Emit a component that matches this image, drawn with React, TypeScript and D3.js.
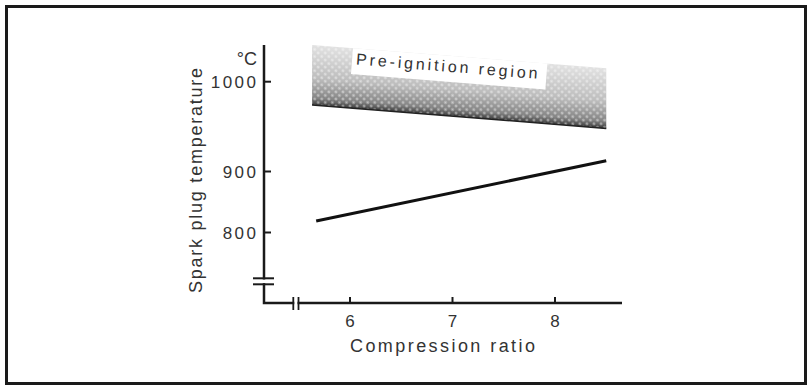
import React, { useEffect, useRef } from 'react';
import * as d3 from 'd3';

// compression ratio ticks and spark plug temperature ticks (°C)
const xTicks = [6, 7, 8];
const yTicks = [800, 900, 1000];

// spark plug temperature vs compression ratio
const lineRatio = [5.67, 8.5];
const lineTemp = [819, 912];

// pre-ignition region (upper and lower bounds)
const regionRatio = [5.63, 8.5];
const regionTop = [1041, 1015];
const regionBottom = [974, 948];

const regionLabel = 'Pre-ignition region';
const xTitle = 'Compression ratio';
const yTitle = 'Spark plug temperature';
const yUnit = '°C';

const W = 812;
const H = 389;

const App: React.FC = () => {
  const svgRef = useRef<SVGSVGElement>(null);

  useEffect(() => {
    const svg = d3.select(svgRef.current);
    svg.selectAll('*').remove();

    const ink = '#1a1a1a';
    const textCol = '#333';
    const font = '"Liberation Sans", Arial, sans-serif';

    // the original drawing has an uneven temperature axis, so piecewise
    const x = d3.scaleLinear().domain([6, 8]).range([350, 555]);
    const y = d3.scaleLinear().domain([800, 900, 1000]).range([232.5, 171.5, 81.7]);

    const axisX = 264;
    const axisY = 303;
    const axisTop = 45;
    const axisRight = 622;

    // outer frame
    svg.append('rect')
      .attr('x', 6.5).attr('y', 6.5)
      .attr('width', W - 13).attr('height', H - 12)
      .attr('fill', 'none').attr('stroke', ink).attr('stroke-width', 3);

    // defs: gradient (perpendicular to the bounds) + halftone dots
    const defs = svg.append('defs');
    const x0 = x(regionRatio[0]);
    const x1 = x(regionRatio[1]);
    const dx = x1 - x0;
    const dy = y(regionBottom[1]) - y(regionBottom[0]);
    const len = Math.hypot(dx, dy);
    const nx = dy / len;
    const ny = -dx / len;
    const depth = y(regionBottom[0]) - y(regionTop[0]);
    const mx = (x0 + x1) / 2;
    const my = (y(regionBottom[0]) + y(regionBottom[1])) / 2;
    const grad = defs.append('linearGradient')
      .attr('id', 'shade')
      .attr('gradientUnits', 'userSpaceOnUse')
      .attr('x1', mx).attr('y1', my)
      .attr('x2', mx + nx * depth).attr('y2', my + ny * depth);
    grad.append('stop').attr('offset', 0).attr('stop-color', '#3c3c3c');
    grad.append('stop').attr('offset', 0.12).attr('stop-color', '#858585');
    grad.append('stop').attr('offset', 0.45).attr('stop-color', '#bdbdbd');
    grad.append('stop').attr('offset', 1).attr('stop-color', '#e2e2e2');

    const pat = defs.append('pattern')
      .attr('id', 'dots')
      .attr('patternUnits', 'userSpaceOnUse')
      .attr('width', 5).attr('height', 5)
      .attr('patternTransform', 'rotate(45)');
    pat.append('circle').attr('cx', 2.5).attr('cy', 2.5).attr('r', 1.3)
      .attr('fill', '#fff').attr('opacity', 0.5);

    const regionPts: [number, number][] = [
      [x0, y(regionTop[0])],
      [x1, y(regionTop[1])],
      [x1, y(regionBottom[1])],
      [x0, y(regionBottom[0])],
    ];
    const poly = regionPts.map(p => p.join(',')).join(' ');
    svg.append('polygon').attr('points', poly).attr('fill', 'url(#shade)');
    svg.append('polygon').attr('points', poly).attr('fill', 'url(#dots)');
    svg.append('line')
      .attr('x1', x0).attr('y1', y(regionBottom[0]))
      .attr('x2', x1).attr('y2', y(regionBottom[1]))
      .attr('stroke', '#222').attr('stroke-width', 1.5);

    // label box lying on the upper bound
    const ang = Math.atan2(y(regionTop[1]) - y(regionTop[0]), x1 - x0) * 180 / Math.PI;
    const bx = 353;
    const by = y(regionTop[0]) + (bx - x0) * Math.tan(ang * Math.PI / 180);
    const lab = svg.append('g').attr('transform', `translate(${bx},${by}) rotate(${ang})`);
    lab.append('rect').attr('x', 0).attr('y', 0).attr('width', 195).attr('height', 26).attr('fill', '#fff');
    lab.append('text')
      .attr('x', 4).attr('y', 16)
      .attr('font-family', font).attr('font-size', 16)
      .attr('fill', textCol)
      .attr('textLength', 182).attr('lengthAdjust', 'spacing')
      .text(regionLabel);

    // data line
    svg.append('path')
      .datum(lineRatio.map((r, i) => [r, lineTemp[i]] as [number, number]))
      .attr('d', d3.line<[number, number]>().x(d => x(d[0])).y(d => y(d[1])))
      .attr('fill', 'none').attr('stroke', '#111').attr('stroke-width', 3);

    // axes
    svg.append('path')
      .attr('d', `M${axisX},${axisTop}V${axisY}H${axisRight}`)
      .attr('fill', 'none').attr('stroke', ink).attr('stroke-width', 2.5);

    // y ticks
    const yt = svg.append('g');
    yt.selectAll('line').data(yTicks).enter().append('line')
      .attr('x1', axisX).attr('x2', axisX + 7)
      .attr('y1', d => y(d)).attr('y2', d => y(d))
      .attr('stroke', ink).attr('stroke-width', 2);
    yt.selectAll('text').data(yTicks).enter().append('text')
      .attr('x', 258.5).attr('y', d => y(d) + 6)
      .attr('text-anchor', 'end')
      .attr('font-family', font).attr('font-size', 17)
      .attr('letter-spacing', 2.5)
      .attr('fill', textCol)
      .text(d => d);

    // x ticks
    const xt = svg.append('g');
    xt.selectAll('line').data(xTicks).enter().append('line')
      .attr('x1', d => x(d)).attr('x2', d => x(d))
      .attr('y1', axisY).attr('y2', axisY - 6)
      .attr('stroke', ink).attr('stroke-width', 2);
    xt.selectAll('text').data(xTicks).enter().append('text')
      .attr('x', d => x(d)).attr('y', 327)
      .attr('text-anchor', 'middle')
      .attr('font-family', font).attr('font-size', 17)
      .attr('fill', textCol)
      .text(d => d);

    // axis breaks
    svg.append('rect').attr('x', 250).attr('y', 279.5).attr('width', 26).attr('height', 3.6).attr('fill', '#fff');
    [278.3, 284.3].forEach(v => {
      svg.append('line').attr('x1', 253).attr('x2', 274).attr('y1', v).attr('y2', v)
        .attr('stroke', ink).attr('stroke-width', 2);
    });
    svg.append('rect').attr('x', 294.3).attr('y', 295).attr('width', 3.2).attr('height', 16).attr('fill', '#fff');
    [293.3, 298.5].forEach(v => {
      svg.append('line').attr('x1', v).attr('x2', v).attr('y1', 297).attr('y2', 310)
        .attr('stroke', ink).attr('stroke-width', 1.8);
    });

    // titles
    svg.append('text')
      .attr('x', 442.5).attr('y', 352)
      .attr('text-anchor', 'middle')
      .attr('font-family', font).attr('font-size', 18)
      .attr('fill', textCol)
      .attr('textLength', 185).attr('lengthAdjust', 'spacing')
      .text(xTitle);

    svg.append('text')
      .attr('transform', 'translate(202,180.5) rotate(-90)')
      .attr('text-anchor', 'middle')
      .attr('font-family', font).attr('font-size', 18)
      .attr('fill', textCol)
      .attr('textLength', 225).attr('lengthAdjust', 'spacing')
      .text(yTitle);

    svg.append('text')
      .attr('x', 257).attr('y', 65)
      .attr('text-anchor', 'end')
      .attr('font-family', font).attr('font-size', 18)
      .attr('fill', textCol)
      .text(yUnit);
  }, []);

  return (
    <svg
      ref={svgRef}
      width={W}
      height={H}
      style={{ position: 'absolute', left: 0, top: 0, background: '#fff' }}
    />
  );
};

export default App;
